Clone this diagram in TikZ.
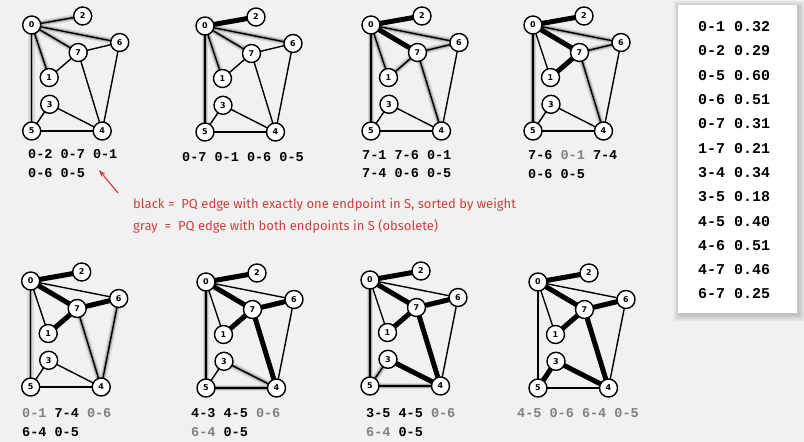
\documentclass[tikz,border=0pt]{standalone}
\usepackage{fontspec}
\newfontfamily\monofont{Liberation Mono}
\newfontfamily\numfont{DejaVu Sans}
\newfontfamily\notefont{Fira Sans}
\usetikzlibrary{arrows.meta}
\pgfdeclarelayer{pagelayer}
\pgfdeclarelayer{bg}
\pgfsetlayers{pagelayer,bg,main}
\definecolor{pagebg}{RGB}{241,241,241}
\definecolor{notered}{RGB}{205,65,60}
\definecolor{obsgray}{RGB}{128,128,128}
\tikzset{
  vtx/.style={circle, draw=black, line width=1.4pt, fill=white, minimum size=18pt, inner sep=0pt,
    font=\numfont\bfseries\fontsize{8}{9}\selectfont},
  edgeline/.style={line width=1.4pt, black},
  mstedge/.style={line width=5pt, black},
  haloout/.style={line width=6.5pt, black!15},
  haloin/.style={line width=3.5pt, black!35},
  pqlbl/.style={anchor=west, inner sep=0pt, font=\monofont\bfseries\fontsize{13.5}{14}\selectfont},
  tbl/.style={anchor=west, inner sep=0pt, font=\monofont\bfseries\fontsize{15}{16}\selectfont},
  note/.style={anchor=west, inner sep=0pt, text=notered, font=\notefont\fontsize{13}{14}\selectfont},
}
\newcommand{\ob}[1]{\textcolor{obsgray}{#1}}
% #1 prefix, #2 x, #3 y, #4 mst edges, #5 pq edges
\newcommand{\drawgraph}[5]{%
  \begin{scope}[shift={(#2,#3)}]
    \node[vtx] (#1-0) at (0,0) {0};
    \node[vtx] (#1-2) at (51,-9) {2};
    \node[vtx] (#1-6) at (88,17.5) {6};
    \node[vtx] (#1-7) at (46.5,27.5) {7};
    \node[vtx] (#1-1) at (17.5,52.5) {1};
    \node[vtx] (#1-3) at (18,79.3) {3};
    \node[vtx] (#1-5) at (0,106) {5};
    \node[vtx] (#1-4) at (70.5,106) {4};
  \end{scope}
  \begin{pgfonlayer}{bg}
    \if\relax\detokenize{#5}\relax\else
      \foreach \a/\b in {#5} {\draw[haloout] (#1-\a.center) -- (#1-\b.center);}
      \foreach \a/\b in {#5} {\draw[haloin] (#1-\a.center) -- (#1-\b.center);}
    \fi
    \foreach \a/\b in {0/2,0/7,0/1,0/6,0/5,1/7,6/7,4/7,4/6,3/5,3/4,4/5}
      {\draw[edgeline] (#1-\a.center) -- (#1-\b.center);}
    \if\relax\detokenize{#4}\relax\else
      \foreach \a/\b in {#4} {\draw[mstedge] (#1-\a.center) -- (#1-\b.center);}
    \fi
  \end{pgfonlayer}
}
\begin{document}
\begin{tikzpicture}[x=1pt,y=-1pt]
\useasboundingbox (0,0) rectangle (804,442);
\begin{pgfonlayer}{pagelayer}
  \fill[pagebg] (0,0) rectangle (804,442);
\end{pgfonlayer}

% graphs
\drawgraph{ga}{31.7}{25}{}{0/2,0/7,0/1,0/6,0/5}
\drawgraph{gb}{205}{26}{0/2}{0/7,0/1,0/6,0/5}
\drawgraph{gc}{371}{25}{0/2,0/7}{7/1,7/6,0/1,7/4,0/6,0/5}
\drawgraph{gd}{533}{25}{0/2,0/7,1/7}{7/6,7/4,0/6,0/5}
\drawgraph{ge}{30.7}{281}{0/2,0/7,1/7,6/7}{7/4,6/4,0/5}
\drawgraph{gf}{206}{282}{0/2,0/7,1/7,6/7,4/7}{4/3,4/5,0/5}
\drawgraph{gg}{370}{280}{0/2,0/7,1/7,6/7,4/7,3/4}{3/5,4/5,0/5}
\drawgraph{gh}{538}{282}{0/2,0/7,1/7,6/7,4/7,3/4,3/5}{}

% PQ labels
\node[pqlbl] (la1) at (28,154) {0-2 0-7 0-1};
\node[pqlbl] (la2) at (28,173) {0-6 0-5};
\node[pqlbl] (lb1) at (182,157) {0-7 0-1 0-6 0-5};
\node[pqlbl] (lc1) at (362,155) {7-1 7-6 0-1};
\node[pqlbl] (lc2) at (362,173) {7-4 0-6 0-5};
\node[pqlbl] (ld1) at (528,155) {7-6 \ob{0-1} 7-4};
\node[pqlbl] (ld2) at (528,174) {0-6 0-5};
\node[pqlbl] (le1) at (22,413) {\ob{0-1} 7-4 \ob{0-6}};
\node[pqlbl] (le2) at (22,432) {6-4 0-5};
\node[pqlbl] (lf1) at (191,413) {4-3 4-5 \ob{0-6}};
\node[pqlbl] (lf2) at (191,432) {\ob{6-4} 0-5};
\node[pqlbl] (lg1) at (366,413) {3-5 4-5 \ob{0-6}};
\node[pqlbl] (lg2) at (366,432) {\ob{6-4} 0-5};
\node[pqlbl] (lh1) at (517,413) {\ob{4-5 0-6 6-4 0-5}};

% note
\node[note] (note1) at (133,205) {black =\ \ PQ edge with exactly one endpoint in S, sorted by weight};
\node[note] (note2) at (133,226) {gray\ \ =\ \ PQ edge with both endpoints in S (obsolete)};
\coordinate (arrtail) at (118,193);
\coordinate (arrhead) at (99,170);
\draw[notered, line width=1.2pt, -{Stealth[length=7pt,width=5pt]}] (arrtail) -- (arrhead);

% weight table
\foreach \i in {1,...,8} {
  \fill[black, opacity=0.025] (678-\i*0.8+1.5,5-\i*0.8+2) rectangle (797+\i*0.8+1.5,313+\i*0.8+2);
}
\node[fill=white, inner sep=0pt, minimum width=119pt, minimum height=308pt] (tablebox) at (737.5,159) {};
\node[tbl] (t1) at (698,26.7) {0-1 0.32};
\node[tbl] (t2) at (698,51.0) {0-2 0.29};
\node[tbl] (t3) at (698,75.3) {0-5 0.60};
\node[tbl] (t4) at (698,99.6) {0-6 0.51};
\node[tbl] (t5) at (698,123.9) {0-7 0.31};
\node[tbl] (t6) at (698,148.2) {1-7 0.21};
\node[tbl] (t7) at (698,172.5) {3-4 0.34};
\node[tbl] (t8) at (698,196.8) {3-5 0.18};
\node[tbl] (t9) at (698,221.1) {4-5 0.40};
\node[tbl] (t10) at (698,245.4) {4-6 0.51};
\node[tbl] (t11) at (698,269.7) {4-7 0.46};
\node[tbl] (t12) at (698,294.0) {6-7 0.25};
\end{tikzpicture}
\end{document}
